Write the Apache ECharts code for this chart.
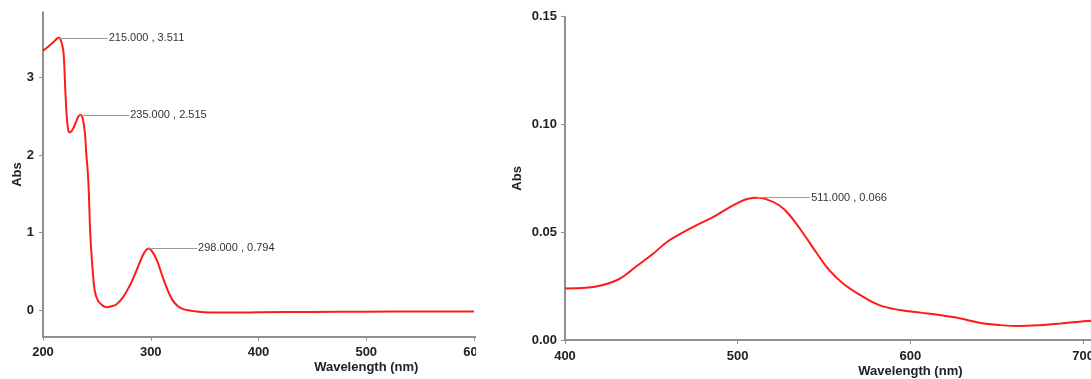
<!DOCTYPE html>
<html>
<head>
<meta charset="utf-8">
<script src="https://cdn.jsdelivr.net/npm/echarts@6/dist/echarts.min.js"></script>
<style>
  html, body { margin: 0; padding: 0; background: #fff; }
  #left { position: absolute; left: 0; top: 0; width: 476px; height: 379px; }
  #right { position: absolute; left: 476px; top: 0; width: 615px; height: 379px; }
</style>
</head>
<body>
<div id="left"></div>
<div id="right"></div>
<script>
// UV region spectrum (left panel)
const leftWave = [200, 205, 210, 213, 215, 217, 219, 221, 223, 225, 228, 231, 233, 235, 237,
  239, 240, 242, 244, 246, 248, 251, 255, 259, 263, 268, 274, 280, 285, 290, 294, 298, 302,
  306, 310, 315, 320, 325, 330, 335, 340, 350, 360, 380, 400, 450, 500, 550, 600];
const leftAbs = [3.346, 3.40, 3.46, 3.50, 3.511, 3.46, 3.33, 2.75, 2.36, 2.29, 2.34, 2.44, 2.50, 2.515, 2.46,
  2.27, 2.05, 1.68, 0.95, 0.53, 0.25, 0.12, 0.06, 0.035, 0.045, 0.07, 0.16, 0.30, 0.45, 0.62, 0.74, 0.794, 0.74,
  0.63, 0.47, 0.28, 0.13, 0.05, 0.01, -0.005, -0.015, -0.03, -0.033, -0.033, -0.03, -0.025, -0.022, -0.02, -0.02];
const leftPeaks = [[215, 3.511], [235, 2.515], [298, 0.794]];
const leftXTicks = [200, 300, 400, 500, 600, 700, 800];
const leftYTicks = [0, 1, 2, 3];

// visible region spectrum (right panel)
const rightWave = [400, 412, 422, 432, 441, 451, 459, 467, 476, 486, 494, 501, 506, 511, 516,
  524, 530, 538, 546, 553, 561, 571, 582, 594, 606, 617, 629, 640, 652, 663, 675, 687, 698, 705];
const rightAbs = [0.0239, 0.0242, 0.0255, 0.0286, 0.034, 0.040, 0.0455, 0.0494, 0.0532, 0.0571, 0.061, 0.064, 0.0655, 0.066, 0.0655,
  0.0625, 0.058, 0.0494, 0.040, 0.0324, 0.0262, 0.0208, 0.0162, 0.0139, 0.0127, 0.0116, 0.010, 0.008, 0.0069, 0.0065, 0.0069, 0.0077, 0.0085, 0.009];
const rightPeaks = [[511, 0.066]];
const rightXTicks = [400, 500, 600, 700, 800];
const rightYTicks = [0, 0.05, 0.10, 0.15];

const font = 'Liberation Sans, Arial, sans-serif';
const axisColor = '#8f8f8f';
const labelColor = '#222';

function buildOption(p) {
  return {
    animation: false,
    grid: { left: p.grid[0], right: p.grid[1], top: p.grid[2], bottom: p.grid[3], outerBoundsMode: 'none' },
    xAxis: {
      type: 'value',
      min: p.xRange[0],
      max: p.xRange[1],
      name: 'Wavelength (nm)',
      nameLocation: 'middle',
      nameGap: p.xNameGap,
      nameMoveOverlap: false,
      nameTextStyle: { color: labelColor, fontFamily: font, fontWeight: 'bold', fontSize: 13 },
      axisLine: { onZero: false, lineStyle: { color: axisColor, width: 2 } },
      axisTick: { show: true, length: 4, customValues: p.xTicks, lineStyle: { color: axisColor, width: 1 } },
      axisLabel: { customValues: p.xTicks, margin: p.xMargin, color: labelColor, fontFamily: font, fontWeight: 'bold', fontSize: 13 },
      splitLine: { show: false },
    },
    yAxis: {
      type: 'value',
      min: p.yRange[0],
      max: p.yRange[1],
      name: 'Abs',
      nameLocation: 'middle',
      nameGap: p.yNameGap,
      nameMoveOverlap: false,
      nameTextStyle: { color: labelColor, fontFamily: font, fontWeight: 'bold', fontSize: 13 },
      axisLine: { show: true, onZero: false, lineStyle: { color: axisColor, width: 2 } },
      axisTick: { show: true, length: 4, customValues: p.yTicks, lineStyle: { color: axisColor, width: 1 } },
      axisLabel: {
        customValues: p.yTicks,
        margin: p.yMargin,
        color: labelColor, fontFamily: font, fontWeight: 'bold', fontSize: 13,
        formatter: (v) => v.toFixed(p.yDigits),
      },
      splitLine: { show: false },
    },
    series: [{
      type: 'line',
      data: p.wave.map((w, i) => [w, p.abs[i]]),
      showSymbol: false,
      smooth: 0.4,
      lineStyle: { color: '#ff1a1a', width: 2 },
      itemStyle: { color: '#ff1a1a' },
      markLine: {
        silent: true,
        symbol: ['none', 'none'],
        lineStyle: { color: '#9a9a9a', width: 1, type: 'solid' },
        label: {
          position: 'end',
          distance: 1,
          color: '#333',
          fontFamily: font,
          fontSize: 11,
          formatter: (d) => d.data.text,
        },
        data: p.peaks.map(([x, y]) => [
          { coord: [x, y] },
          { coord: [x + p.lead, y], text: x.toFixed(3) + ' , ' + y.toFixed(3) },
        ]),
      },
    }],
  };
}

const leftChart = echarts.init(document.getElementById('left'));
leftChart.setOption(buildOption({
  grid: [43, -213.5, 12.3, 42.3],
  xRange: [200, 800],
  yRange: [-0.345, 3.84],
  xTicks: leftXTicks,
  yTicks: leftYTicks,
  yDigits: 0,
  xMargin: 9,
  yMargin: 9,
  xNameGap: 24.5,
  yNameGap: 19,
  wave: leftWave,
  abs: leftAbs,
  peaks: leftPeaks,
  lead: 45,
}));

const rightChart = echarts.init(document.getElementById('right'));
rightChart.setOption(buildOption({
  grid: [89, -164.8, 16.7, 39],
  xRange: [400, 800],
  yRange: [0, 0.15],
  xTicks: rightXTicks,
  yTicks: rightYTicks,
  yDigits: 2,
  xMargin: 10,
  yMargin: 8,
  xNameGap: 25,
  yNameGap: 41,
  wave: rightWave,
  abs: rightAbs,
  peaks: rightPeaks,
  lead: 31,
}));
</script>
</body>
</html>
